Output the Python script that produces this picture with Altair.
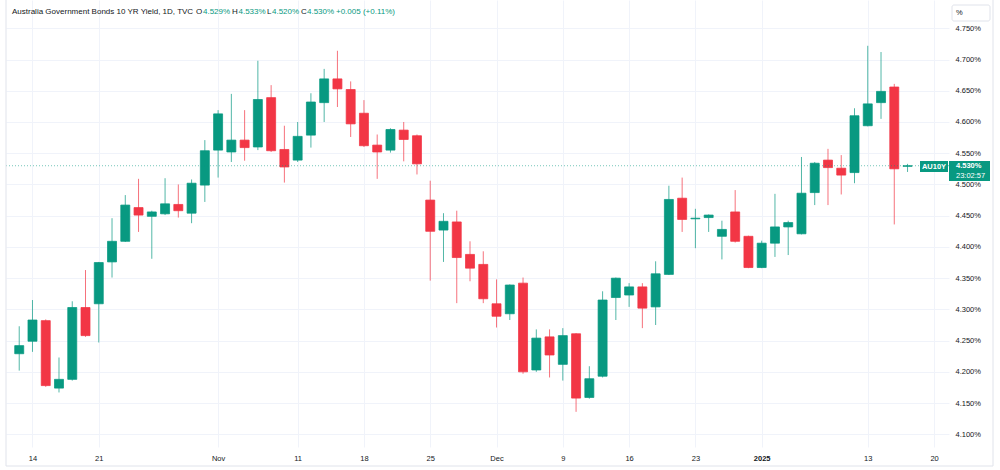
import altair as alt
import pandas as pd

# ---------------- data ----------------
dates = [
    "2024-10-11",
    "2024-10-14", "2024-10-15", "2024-10-16", "2024-10-17", "2024-10-18",
    "2024-10-21", "2024-10-22", "2024-10-23", "2024-10-24", "2024-10-25",
    "2024-10-28", "2024-10-29", "2024-10-30", "2024-10-31", "2024-11-01",
    "2024-11-04", "2024-11-05", "2024-11-06", "2024-11-07", "2024-11-08",
    "2024-11-11", "2024-11-12", "2024-11-13", "2024-11-14", "2024-11-15",
    "2024-11-18", "2024-11-19", "2024-11-20", "2024-11-21", "2024-11-22",
    "2024-11-25", "2024-11-26", "2024-11-27", "2024-11-28", "2024-11-29",
    "2024-12-02", "2024-12-03", "2024-12-04", "2024-12-05", "2024-12-06",
    "2024-12-09", "2024-12-10", "2024-12-11", "2024-12-12", "2024-12-13",
    "2024-12-16", "2024-12-17", "2024-12-18", "2024-12-19", "2024-12-20",
    "2024-12-23", "2024-12-24", "2024-12-27",
    "2024-12-30", "2024-12-31", "2025-01-01", "2025-01-02", "2025-01-03",
    "2025-01-06", "2025-01-07", "2025-01-08", "2025-01-09", "2025-01-10",
    "2025-01-13", "2025-01-14", "2025-01-15", "2025-01-16",
]
opens = [
    4.229,
    4.249, 4.282, 4.174, 4.188, 4.303,
    4.309, 4.376, 4.409, 4.463, 4.449,
    4.453, 4.468, 4.454, 4.499, 4.555,
    4.552, 4.571, 4.560, 4.639, 4.556,
    4.539, 4.579, 4.631, 4.669, 4.652,
    4.614, 4.563, 4.555, 4.587, 4.578,
    4.475, 4.427, 4.440, 4.388, 4.372,
    4.309, 4.293, 4.342, 4.203, 4.256,
    4.212, 4.261, 4.159, 4.193, 4.319,
    4.323, 4.336, 4.304, 4.356, 4.478,
    4.445, 4.447, 4.417,
    4.456, 4.417, 4.367, 4.406, 4.432,
    4.421, 4.487, 4.539, 4.526, 4.519,
    4.594, 4.631, 4.656, 4.529,
]
highs = [
    4.273,
    4.315, 4.284, 4.223, 4.313, 4.363,
    4.376, 4.446, 4.483, 4.509, 4.458,
    4.510, 4.500, 4.508, 4.571, 4.619,
    4.645, 4.619, 4.698, 4.659, 4.594,
    4.600, 4.646, 4.685, 4.714, 4.665,
    4.635, 4.580, 4.590, 4.600, 4.580,
    4.506, 4.454, 4.458, 4.409, 4.393,
    4.348, 4.340, 4.351, 4.268, 4.268,
    4.270, 4.262, 4.209, 4.329, 4.351,
    4.342, 4.342, 4.377, 4.498, 4.511,
    4.461, 4.452, 4.442,
    4.491, 4.418, 4.410, 4.485, 4.442,
    4.544, 4.536, 4.557, 4.547, 4.622,
    4.722, 4.712, 4.661, 4.533,
]
lows = [
    4.202,
    4.232, 4.176, 4.167, 4.186, 4.256,
    4.247, 4.351, 4.408, 4.424, 4.381,
    4.451, 4.447, 4.438, 4.472, 4.511,
    4.536, 4.538, 4.555, 4.552, 4.503,
    4.536, 4.559, 4.600, 4.624, 4.576,
    4.560, 4.509, 4.551, 4.537, 4.516,
    4.346, 4.376, 4.310, 4.345, 4.310,
    4.271, 4.283, 4.197, 4.200, 4.191,
    4.186, 4.136, 4.157, 4.191, 4.283,
    4.304, 4.270, 4.275, 4.355, 4.424,
    4.398, 4.424, 4.380,
    4.407, 4.366, 4.366, 4.384, 4.387,
    4.420, 4.467, 4.467, 4.484, 4.502,
    4.593, 4.605, 4.436, 4.520,
]
closes = [
    4.242,
    4.283, 4.178, 4.188, 4.303, 4.258,
    4.375, 4.409, 4.467, 4.451, 4.456,
    4.469, 4.458, 4.502, 4.554, 4.613,
    4.571, 4.559, 4.636, 4.554, 4.528,
    4.577, 4.632, 4.669, 4.653, 4.597,
    4.562, 4.552, 4.588, 4.572, 4.533,
    4.425, 4.441, 4.383, 4.366, 4.317,
    4.289, 4.339, 4.200, 4.254, 4.227,
    4.258, 4.158, 4.189, 4.315, 4.350,
    4.336, 4.302, 4.357, 4.476, 4.444,
    4.446, 4.451, 4.428,
    4.409, 4.367, 4.406, 4.432, 4.439,
    4.486, 4.534, 4.527, 4.515, 4.610,
    4.629, 4.649, 4.525, 4.530,
]

tick_idx = [1, 6, 15, 21, 26, 31, 36, 41, 46, 51, 56, 64, 69]
tick_labels = ["14", "21", "Nov", "11", "18", "25", "Dec", "9", "16", "23", "2025", "13", "20"]
y_ticks = [4.10, 4.15, 4.20, 4.25, 4.30, 4.35, 4.40, 4.45, 4.50, 4.55, 4.60, 4.65, 4.70, 4.75]

header_texts = ["Australia Government Bonds 10 YR Yield, 1D, TVC", "O", "4.529%", "H", "4.533%",
                "L", "4.520%", "C", "4.530%", "+0.005 (+0.11%)"]
header_is_value = [False, False, True, False, True, False, True, False, True, True]
header_x = [12, 196, 203, 232, 238.5, 267, 272, 301, 307, 336]  # page x of each piece

symbol = "AU10Y"
last_price_text = "4.530%"
countdown_text = "23:02:57"

# ---------------- style ----------------
GREEN = "#089981"
RED = "#F23645"
TXT = "#131722"
GRID = "#f0f3fa"
FONT = "Liberation Sans"
LEFT = 6

df = pd.DataFrame({"i": list(range(len(dates))), "date": dates,
                   "open": opens, "high": highs, "low": lows, "close": closes})
df["dir"] = ["up" if c >= o else "down" for o, c in zip(opens, closes)]

x_scale = alt.Scale(domain=[-0.62, 69.75], nice=False, zero=False)
y_scale = alt.Scale(domain=[4.0797, 4.7953], nice=False, zero=False)
col_scale = alt.Scale(domain=["up", "down"], range=[GREEN, RED])

labels_arr = "[" + ",".join("'" + l + "'" for l in tick_labels) + "]"
idx_arr = "[" + ",".join(str(v) for v in tick_idx) + "]"

x_axis = alt.Axis(values=tick_idx,
                  labelExpr=labels_arr + "[indexof(" + idx_arr + ", datum.value)]",
                  grid=True, gridColor=GRID, gridWidth=1, ticks=False, domain=False,
                  labelPadding=7, labelFontSize=7.5, labelColor=TXT, labelFont=FONT,
                  labelFontWeight={"condition": {"test": "datum.value == 56", "value": "bold"},
                                   "value": "normal"},
                  labelOverlap=False, labelFlush=False, title=None)
y_axis = alt.Axis(orient="right", values=y_ticks,
                  labelExpr="format(datum.value, '.3f') + '%'",
                  grid=True, gridColor=GRID, gridWidth=1, ticks=False, domain=False,
                  labelPadding=6, labelFontSize=7.5, labelColor=TXT, labelFont=FONT,
                  labelOverlap=False, labelFlush=False, title=None)

base = alt.Chart(df)
wicks = base.mark_rule(strokeWidth=1, opacity=0.7).encode(
    x=alt.X("i:Q", scale=x_scale, axis=x_axis),
    y=alt.Y("low:Q", scale=y_scale, axis=y_axis),
    y2="high:Q",
    color=alt.Color("dir:N", scale=col_scale, legend=None),
)
bodies = base.mark_bar(size=9, strokeWidth=1, strokeOpacity=0.75).encode(
    x=alt.X("i:Q", scale=x_scale, axis=x_axis),
    y=alt.Y("open:Q", scale=y_scale, axis=y_axis),
    y2="close:Q",
    color=alt.Color("dir:N", scale=col_scale, legend=None),
    stroke=alt.Stroke("dir:N", scale=col_scale, legend=None),
)

last_df = df.tail(1)
last_line = alt.Chart(last_df).mark_rule(strokeDash=[1, 2], color=GREEN, opacity=0.55, strokeWidth=1).encode(
    y=alt.Y("close:Q", scale=y_scale, axis=y_axis)
)

one = pd.DataFrame({"a": [0]})
layers = [wicks, bodies, last_line]

# frame lines
layers.append(alt.Chart(one).mark_rule(color="#e0e3eb").encode(
    x=alt.value(0), y=alt.value(0), y2=alt.value(466)))
layers.append(alt.Chart(one).mark_rule(color="#e0e3eb").encode(
    x=alt.value(0), x2=alt.value(993 - LEFT), y=alt.value(466)))
layers.append(alt.Chart(one).mark_rule(color="#e0e3eb").encode(
    x=alt.value(993 - LEFT), y=alt.value(0), y2=alt.value(466)))

# header
for t, isv, px in zip(header_texts, header_is_value, header_x):
    layers.append(alt.Chart(one).mark_text(
        text=t, align="left", baseline="middle", font=FONT, fontSize=8,
        color=GREEN if isv else TXT).encode(x=alt.value(px - LEFT), y=alt.value(11.7)))

# "%" box
layers.append(alt.Chart(one).mark_rect(fill="white", stroke="#e0e3eb", strokeWidth=1, cornerRadius=2).encode(
    x=alt.value(952 - LEFT), x2=alt.value(990 - LEFT), y=alt.value(5), y2=alt.value(21)))
layers.append(alt.Chart(one).mark_text(text="%", align="left", baseline="middle", font=FONT,
                                       fontSize=7.5, color=TXT).encode(
    x=alt.value(956 - LEFT), y=alt.value(13)))

# last price labels
layers.append(alt.Chart(one).mark_rect(fill=GREEN).encode(
    x=alt.value(920 - LEFT), x2=alt.value(948 - LEFT), y=alt.value(161), y2=alt.value(172)))
layers.append(alt.Chart(one).mark_text(text=symbol, align="center", baseline="middle", font=FONT,
                                       fontSize=7.5, fontWeight="bold", color="white").encode(
    x=alt.value(934 - LEFT), y=alt.value(166.5)))
layers.append(alt.Chart(one).mark_rect(fill=GREEN).encode(
    x=alt.value(949 - LEFT), x2=alt.value(990 - LEFT), y=alt.value(161), y2=alt.value(181)))
layers.append(alt.Chart(one).mark_text(text=last_price_text, align="left", baseline="middle", font=FONT,
                                       fontSize=7.5, fontWeight="bold", color="white").encode(
    x=alt.value(956 - LEFT), y=alt.value(166)))
layers.append(alt.Chart(one).mark_text(text=countdown_text, align="left", baseline="middle", font=FONT,
                                       fontSize=7.5, color="white").encode(
    x=alt.value(956 - LEFT), y=alt.value(176)))

chart = alt.layer(*layers).properties(
    width=949 - LEFT, height=447, autosize="none",
    padding={"left": LEFT, "top": 0, "right": 1000 - 949, "bottom": 23},
    background="white",
).configure_view(stroke=None)

chart.save("out.html", embed_options={"renderer": "svg", "actions": False})
